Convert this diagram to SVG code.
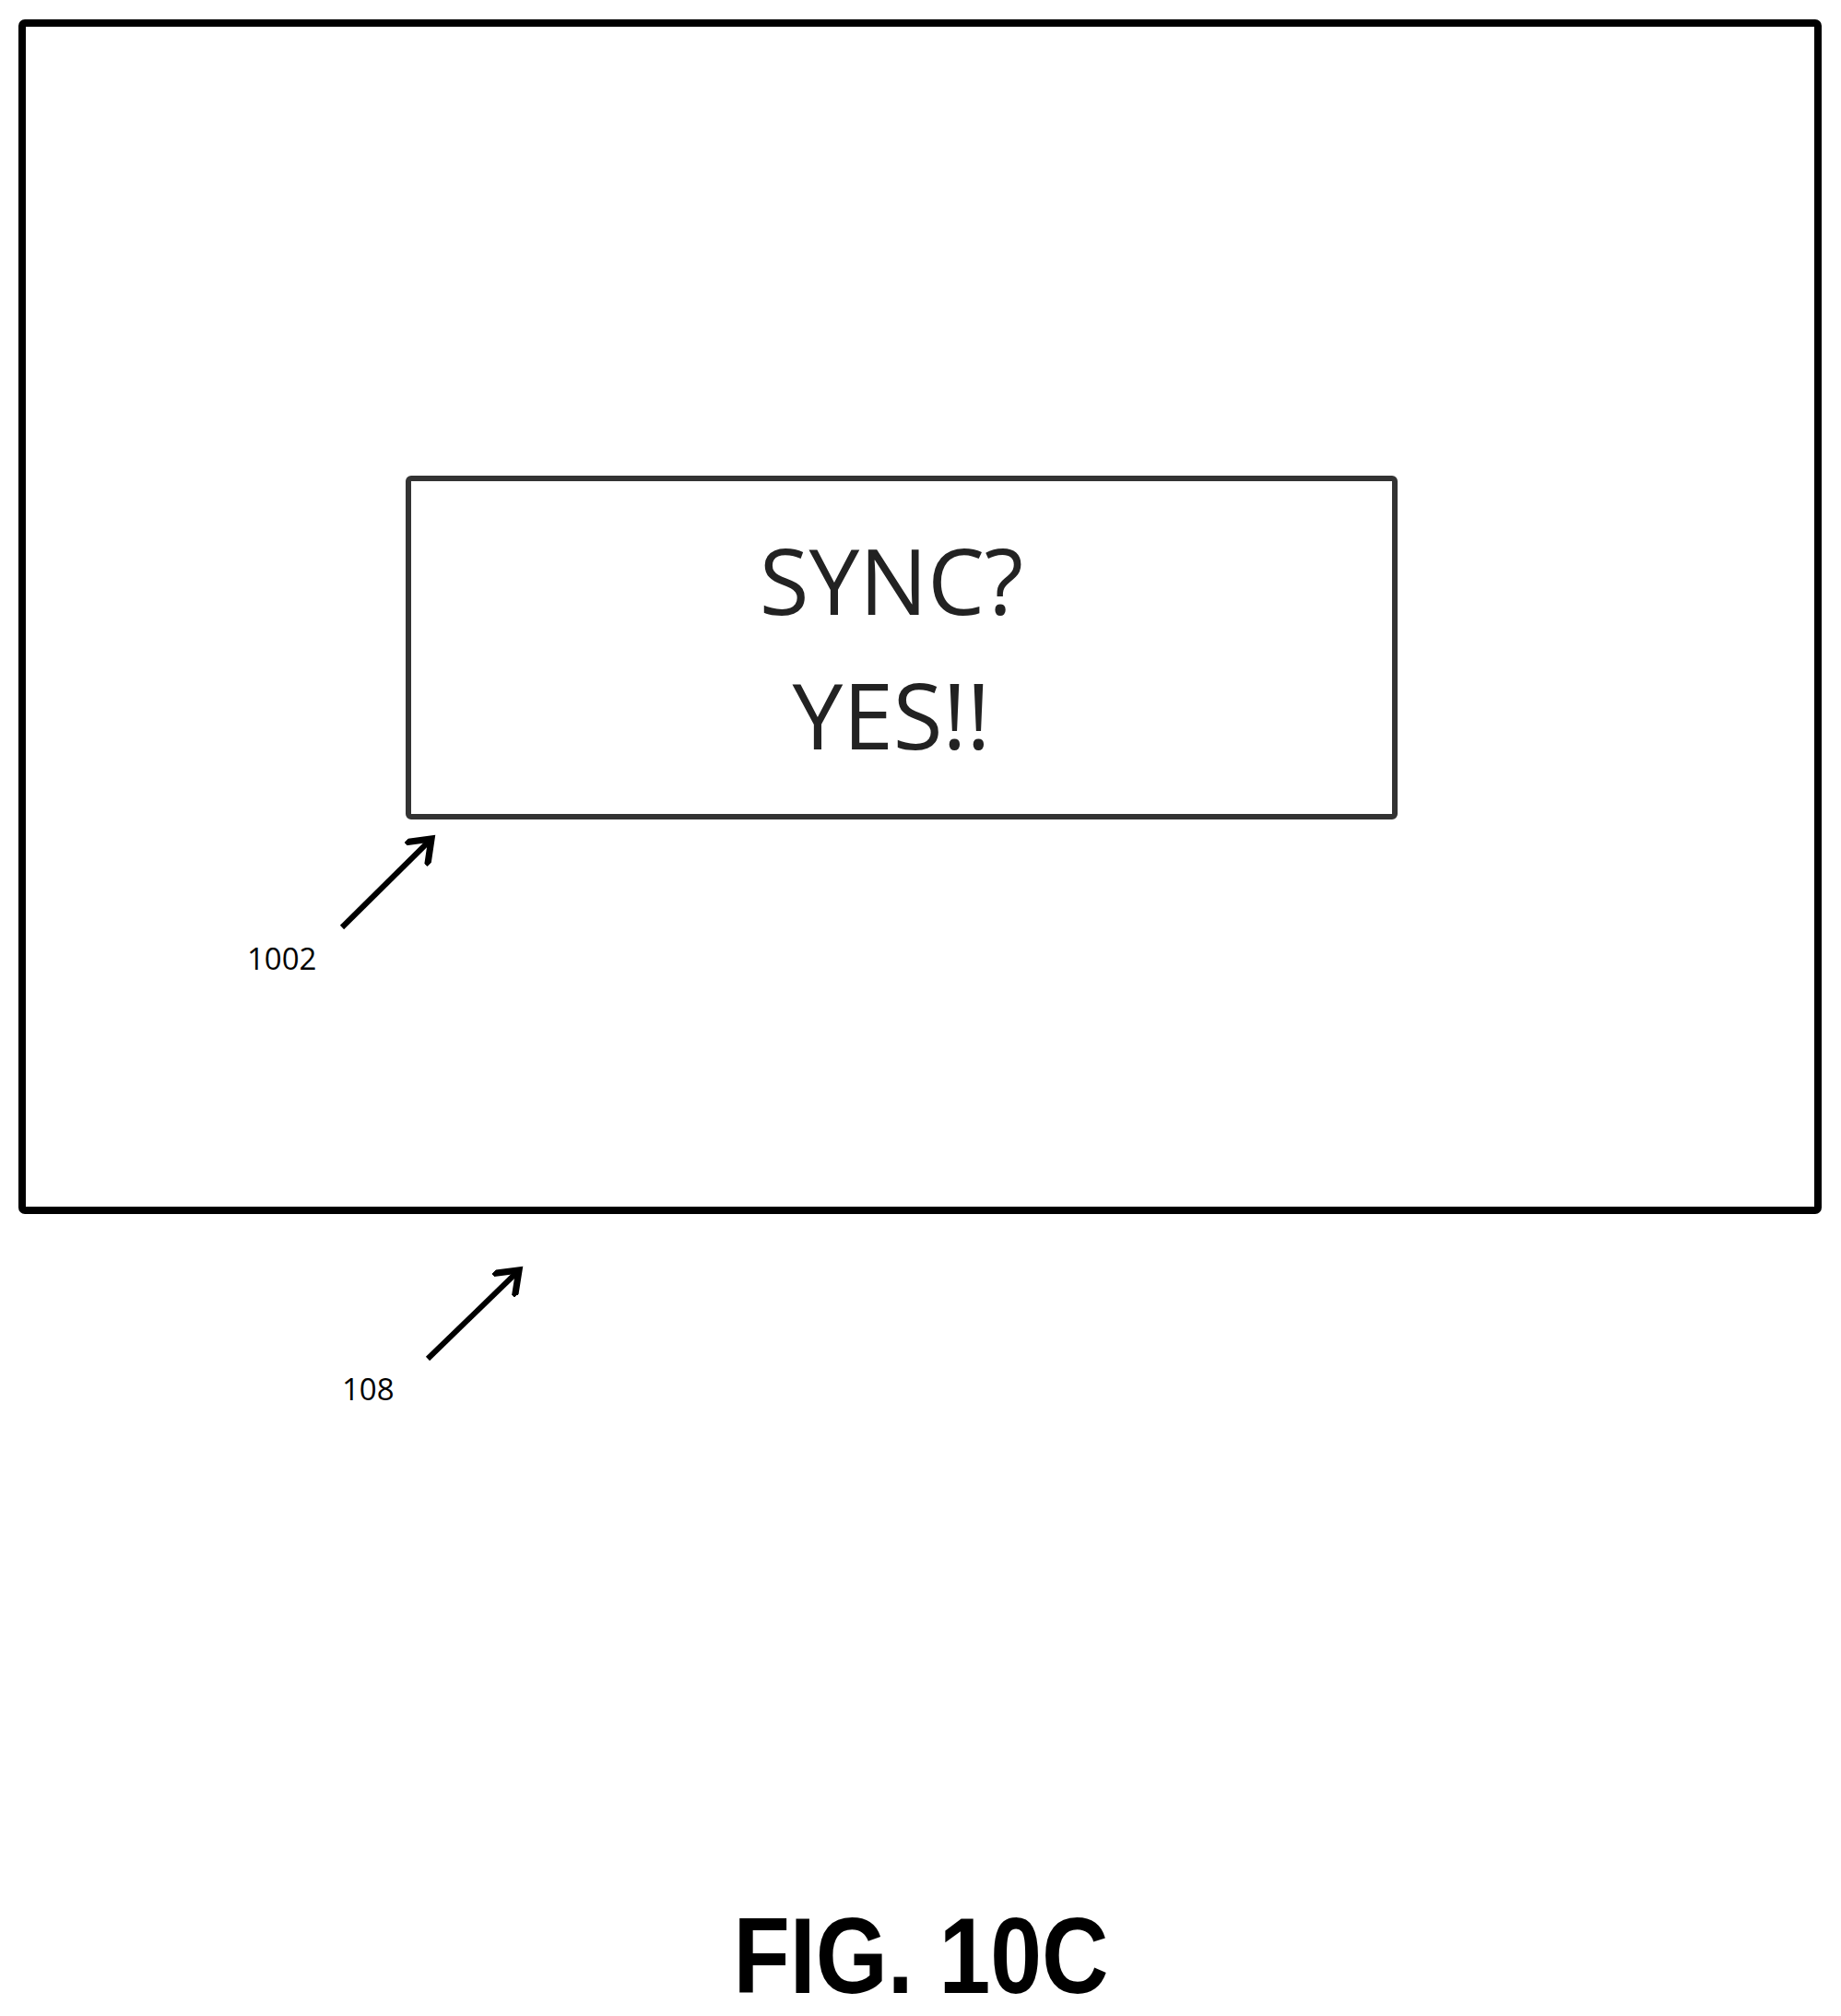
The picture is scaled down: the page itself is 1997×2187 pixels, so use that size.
<svg xmlns="http://www.w3.org/2000/svg" width="1997" height="2187" viewBox="0 0 1997 2187">
<style>
.lbl{font-family:"Open Sans","Liberation Sans",sans-serif;font-size:33px;fill:#000}
.big{font-family:"Open Sans","Liberation Sans",sans-serif;font-size:98px;fill:#222;text-anchor:middle}
.ld{stroke:#000;stroke-width:6;fill:none;marker-end:url(#ah)}
</style>
<defs><marker id="ah" markerWidth="6" markerHeight="6" refX="4" refY="3" orient="auto" markerUnits="strokeWidth"><path d="M0,0 L4,3 L0,6" fill="none" stroke="#000" stroke-width="1.2"/></marker></defs>
<rect width="1997" height="2187" fill="#fff"/>
<g id="screen108"><rect x="24" y="25" width="1948" height="1288" fill="none" stroke="#000" stroke-width="8" rx="3"/></g>
<g id="dialog1002"><rect x="443" y="519" width="1070" height="367" fill="none" stroke="#333" stroke-width="6" rx="3"/>
<text class="big" x="967" y="667">SYNC?</text><text class="big" x="967" y="813">YES!!</text></g>
<g id="connectors">
<line class="ld" x1="371" y1="1006" x2="468" y2="910"/>
<line class="ld" x1="464" y1="1474" x2="563" y2="1378"/>
</g>
<text class="lbl" x="268" y="1052">1002</text>
<text class="lbl" x="371" y="1519">108</text>
<text x="999" y="2162" text-anchor="middle" font-family="'Liberation Sans Narrow','Liberation Sans',sans-serif" font-weight="bold" font-size="116" textLength="407" lengthAdjust="spacingAndGlyphs">FIG. 10C</text>
</svg>
